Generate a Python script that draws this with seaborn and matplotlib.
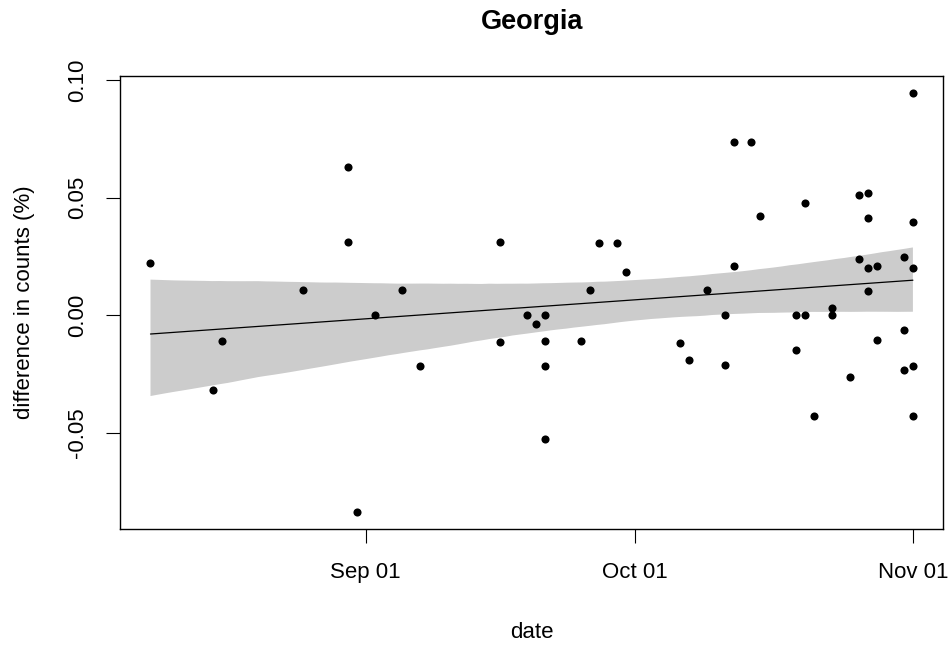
import matplotlib
matplotlib.use("Agg")
import matplotlib.pyplot as plt
import matplotlib.dates as mdates
import numpy as np
import pandas as pd
import seaborn as sns

# ---- data ----
dates = [
    "2020-08-08", "2020-08-15", "2020-08-16", "2020-08-25", "2020-08-30", "2020-08-30",
    "2020-08-31", "2020-09-02", "2020-09-05", "2020-09-07", "2020-09-16", "2020-09-16",
    "2020-09-19", "2020-09-20", "2020-09-21", "2020-09-21", "2020-09-21", "2020-09-21",
    "2020-09-25", "2020-09-26", "2020-09-27", "2020-09-29", "2020-09-30", "2020-10-06",
    "2020-10-07", "2020-10-09", "2020-10-11", "2020-10-11", "2020-10-12", "2020-10-12",
    "2020-10-14", "2020-10-15", "2020-10-19", "2020-10-19", "2020-10-20", "2020-10-20",
    "2020-10-21", "2020-10-23", "2020-10-23", "2020-10-25", "2020-10-26", "2020-10-26",
    "2020-10-27", "2020-10-27", "2020-10-27", "2020-10-27", "2020-10-28", "2020-10-28",
    "2020-10-31", "2020-10-31", "2020-10-31", "2020-11-01", "2020-11-01", "2020-11-01",
    "2020-11-01", "2020-11-01",
]
diff_pct = [
    0.0220, -0.0316, -0.0111, 0.0106, 0.0630, 0.0312,
    -0.0837, 0.0000, 0.0106, -0.0214, 0.0310, -0.0114,
    0.0000, -0.0036, 0.0000, -0.0111, -0.0214, -0.0527,
    -0.0111, 0.0109, 0.0306, 0.0306, 0.0182, -0.0120,
    -0.0190, 0.0106, 0.0000, -0.0212, 0.0734, 0.0211,
    0.0734, 0.0422, 0.0000, -0.0149, 0.0476, 0.0000,
    -0.0427, 0.0031, 0.0000, -0.0263, 0.0511, 0.0239,
    0.0520, 0.0413, 0.0199, 0.0103, 0.0211, -0.0107,
    0.0249, -0.0063, -0.0234, 0.0945, 0.0396, 0.0199,
    -0.0214, -0.0427,
]
title = "Georgia"
x_label = "date"
y_label = "difference in counts (%)"
x_tick_dates = ["2020-09-01", "2020-10-01", "2020-11-01"]
y_ticks = [-0.05, 0.00, 0.05, 0.10]

# ---- style ----
sns.set_style("ticks")
plt.rcParams["font.family"] = ["Liberation Sans", "DejaVu Sans"]
plt.rcParams["axes.edgecolor"] = "black"
plt.rcParams["axes.linewidth"] = 1.0
plt.rcParams["text.color"] = "black"
plt.rcParams["axes.labelcolor"] = "black"
plt.rcParams["xtick.color"] = "black"
plt.rcParams["ytick.color"] = "black"

df = pd.DataFrame({"date": pd.to_datetime(dates), "diff": diff_pct})
df["xnum"] = mdates.date2num(df["date"].to_numpy())

W, H = 952, 645
fig = plt.figure(figsize=(W / 100, H / 100), dpi=100)
ax = fig.add_axes([120 / W, (H - 529) / H, (943.4 - 120) / W, (529 - 76) / H])

sns.regplot(data=df, x="xnum", y="diff", scatter=False, ci=95, n_boot=5000, seed=11,
            color="black", line_kws={"linewidth": 0.9, "zorder": 2}, ax=ax, truncate=True)
for coll in ax.collections:
    coll.set_facecolor("#cccccc")
    coll.set_edgecolor("none")
    coll.set_alpha(1.0)
    coll.set_zorder(1)

sns.scatterplot(data=df, x="xnum", y="diff", color="black", s=34, linewidth=0,
                ax=ax, zorder=3)

# R-like axis extension: 4% on each side
xmin, xmax = df["xnum"].min(), df["xnum"].max()
ymin, ymax = df["diff"].min(), df["diff"].max()
ax.set_xlim(xmin - 0.04 * (xmax - xmin), xmax + 0.04 * (xmax - xmin))
ax.set_ylim(ymin - 0.04 * (ymax - ymin), ymax + 0.04 * (ymax - ymin))

ax.set_xticks(mdates.date2num(pd.to_datetime(x_tick_dates).to_numpy()))
ax.xaxis.set_major_formatter(mdates.DateFormatter("%b %d"))
ax.set_yticks(y_ticks)
ax.set_yticklabels([f"{v:.2f}" for v in y_ticks])

ax.tick_params(axis="both", direction="out", length=10, width=0.8, colors="black",
               labelsize=16)
ax.tick_params(axis="x", pad=14)
ax.tick_params(axis="y", pad=13, labelrotation=90)
for lab in ax.get_yticklabels():
    lab.set_verticalalignment("center")

for sp in ax.spines.values():
    sp.set_visible(True)
    sp.set_color("black")
    sp.set_linewidth(1.0)

ax.set_xlabel(x_label, fontsize=16, labelpad=28, color="black")
ax.set_ylabel(y_label, fontsize=16, labelpad=23, color="black")
ax.set_title(title, fontsize=19.5, fontweight="bold", pad=34, color="black")

fig.savefig("out.png", dpi=100)
